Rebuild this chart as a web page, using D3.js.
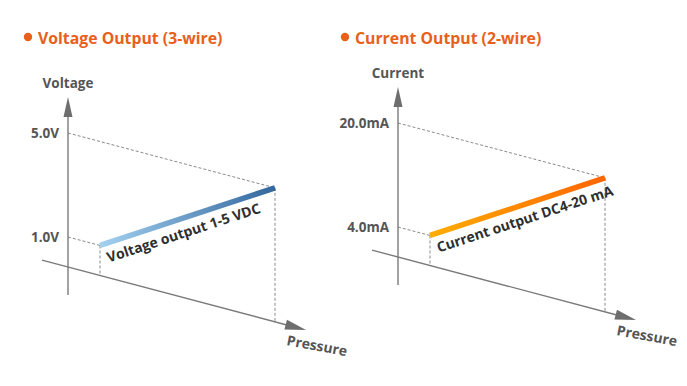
<!DOCTYPE html>
<html>
<head>
<meta charset="utf-8">
<script src="https://cdn.jsdelivr.net/npm/d3@7"></script>
<style>
  body { margin: 0; background: #fff; }
  text { font-family: "Open Sans", sans-serif; }
</style>
</head>
<body>
<div id="chart"></div>
<script>
// chart data
const titles = ['Voltage Output (3-wire)', 'Current Output (2-wire)'];
const axisNames = ['Voltage', 'Current'];
const xAxisName = 'Pressure';
const pressureSpan = [0, 100];          // % of range, start -> end
const voltageOut = [1.0, 5.0];
const currentOut = [4.0, 20.0];
const voltageTicks = ['1.0V', '5.0V'];
const currentTicks = ['4.0mA', '20.0mA'];
const outputNames = ['Voltage output 1-5 VDC', 'Current output DC4-20 mA'];

const W = 687, H = 386;
const SLOPE = 0.265;                    // oblique pressure direction
const ANGLE = Math.atan(SLOPE) * 180 / Math.PI;
const AXIS_COL = '#7a7a7a';
const ORANGE = '#e8601c';

const svg = d3.select('#chart').append('svg')
  .attr('width', W)
  .attr('height', H);

const defs = svg.append('defs');
const gradients = [['#a3d1f0', '#33679d'], ['#ffad00', '#ff6400']];

const panels = [
  { origin: [68, 267], title: [28, 37], out: voltageOut, ticks: voltageTicks },
  { origin: [398, 257], title: [345, 37], out: currentOut, ticks: currentTicks }
];

const xScale = d3.scaleLinear().domain(pressureSpan).range([32, 207]);

panels.forEach((p, i) => {
  const [ox, oy] = p.origin;
  const yScale = d3.scaleLinear().domain(p.out).range([30, 134]);

  // oblique projection: pressure runs down-right, output goes straight up
  const pt = (pr, v) => {
    const dx = xScale(pr);
    return [ox + dx, oy + dx * SLOPE - (v == null ? 0 : yScale(v))];
  };

  // title
  const t = svg.append('g');
  t.append('circle')
    .attr('cx', p.title[0]).attr('cy', p.title[1])
    .attr('r', 4.2).attr('fill', ORANGE);
  t.append('text')
    .attr('x', p.title[0] + 10).attr('y', p.title[1] + 7)
    .attr('font-size', 15.8).attr('font-weight', 700)
    .attr('fill', ORANGE)
    .text(titles[i]);

  const g = svg.append('g');

  // dashed guides
  const lo = pt(pressureSpan[0], p.out[0]);
  const hi = pt(pressureSpan[1], p.out[1]);
  const guides = [
    [[ox, oy - yScale(p.out[0])], lo],
    [[ox, oy - yScale(p.out[1])], hi],
    [lo, pt(pressureSpan[0])],
    [hi, pt(pressureSpan[1])]
  ];
  g.selectAll('line.guide').data(guides).join('line')
    .attr('class', 'guide')
    .attr('x1', d => d[0][0]).attr('y1', d => d[0][1])
    .attr('x2', d => d[1][0]).attr('y2', d => d[1][1])
    .attr('stroke', '#8a8a8a').attr('stroke-width', 1)
    .attr('stroke-dasharray', '3,2');

  // vertical axis
  const top = oy - 170;
  g.append('line')
    .attr('x1', ox).attr('y1', oy + 28)
    .attr('x2', ox).attr('y2', top + 16)
    .attr('stroke', AXIS_COL).attr('stroke-width', 1.4);
  g.append('path')
    .attr('d', `M${ox},${top} L${ox - 4.5},${top + 20} L${ox + 4.5},${top + 20} Z`)
    .attr('fill', '#6e6e6e');
  g.append('text')
    .attr('x', ox).attr('y', top - 9)
    .attr('text-anchor', 'middle')
    .attr('font-size', 13.5).attr('font-weight', 700)
    .attr('fill', '#555')
    .text(axisNames[i]);

  // tick labels
  g.selectAll('text.tick').data(p.out).join('text')
    .attr('class', 'tick')
    .attr('x', ox - 9)
    .attr('y', d => oy - yScale(d) + 5)
    .attr('text-anchor', 'end')
    .attr('font-size', 13.5).attr('font-weight', 700)
    .attr('fill', '#555')
    .text((d, j) => p.ticks[j]);

  // pressure axis (oblique)
  const px = g.append('g')
    .attr('transform', `translate(${ox},${oy}) rotate(${ANGLE})`);
  const len = 238 / Math.cos(Math.atan(SLOPE));
  px.append('line')
    .attr('x1', -26 / Math.cos(Math.atan(SLOPE))).attr('y1', 0)
    .attr('x2', len - 16).attr('y2', 0)
    .attr('stroke', AXIS_COL).attr('stroke-width', 1.4);
  px.append('path')
    .attr('d', `M${len},0 L${len - 21},-5 L${len - 21},5 Z`)
    .attr('fill', '#6e6e6e');

  const tip = [ox + 238, oy + 238 * SLOPE];
  g.append('text')
    .attr('transform', `translate(${tip[0] - 20},${tip[1] + 15}) rotate(10.5)`)
    .attr('font-size', 14).attr('font-weight', 700)
    .attr('fill', '#555')
    .text(xAxisName);

  // output line with gradient
  const gid = `grad${i}`;
  const grad = defs.append('linearGradient')
    .attr('id', gid)
    .attr('gradientUnits', 'userSpaceOnUse')
    .attr('x1', lo[0]).attr('y1', lo[1])
    .attr('x2', hi[0]).attr('y2', hi[1]);
  grad.append('stop').attr('offset', '0%').attr('stop-color', gradients[i][0]);
  grad.append('stop').attr('offset', '100%').attr('stop-color', gradients[i][1]);

  g.append('line')
    .attr('x1', lo[0]).attr('y1', lo[1])
    .attr('x2', hi[0]).attr('y2', hi[1])
    .attr('stroke', `url(#${gid})`).attr('stroke-width', 5.5);

  const lineAngle = Math.atan2(hi[1] - lo[1], hi[0] - lo[0]) * 180 / Math.PI;
  g.append('text')
    .attr('transform', `translate(${lo[0]},${lo[1]}) rotate(${lineAngle})`)
    .attr('x', 3).attr('y', 19)
    .attr('font-size', 14).attr('font-weight', 700)
    .attr('fill', '#2e2e2e')
    .text(outputNames[i]);
});
</script>
</body>
</html>
